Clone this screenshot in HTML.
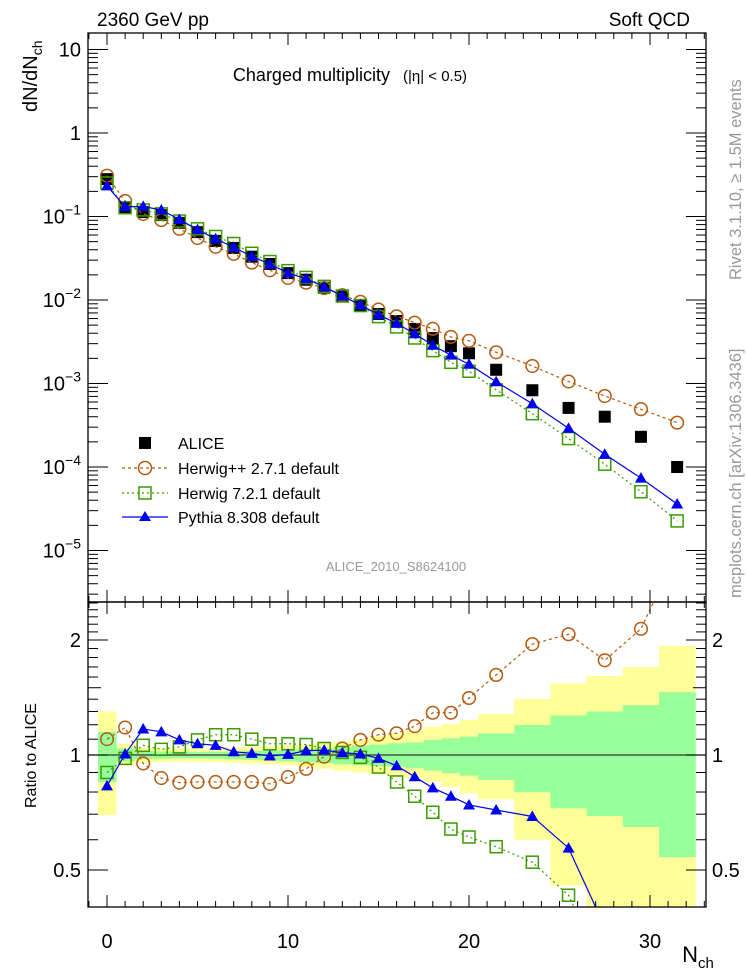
<!DOCTYPE html>
<html><head><meta charset="utf-8"><style>
html,body{margin:0;padding:0;background:#fff}
svg{display:block;font-family:"Liberation Sans",Arial,sans-serif}
</style></head><body>
<svg id="chart" width="746" height="972" viewBox="0 0 746 972" xmlns="http://www.w3.org/2000/svg">
<defs>
<clipPath id="clipMain"><rect x="88" y="33" width="618" height="569"/></clipPath>
<clipPath id="clipRatio"><rect x="88" y="602" width="618" height="305"/></clipPath>
</defs>
<g id="bands" clip-path="url(#clipRatio)"></g>
<g id="marks"></g>
<g id="axes"></g>
<text x="97" y="26" font-size="19">2360 GeV pp</text>
<text x="690" y="26" font-size="19" text-anchor="end">Soft QCD</text>
<text x="350" y="81" font-size="18" text-anchor="middle">Charged multiplicity <tspan font-size="15" dx="8">(|η| &lt; 0.5)</tspan></text>
<text transform="translate(37,112) rotate(-90)" font-size="20">dN/dN<tspan font-size="14" dy="5">ch</tspan></text>
<text transform="translate(36,808) rotate(-90)" font-size="16">Ratio to ALICE</text>
<text x="698" y="962" font-size="22" text-anchor="middle">N<tspan font-size="15" dy="6">ch</tspan></text>
<text transform="translate(741,280) rotate(-90)" font-size="16.5" fill="#999">Rivet 3.1.10, ≥ 1.5M events</text>
<text transform="translate(741,598) rotate(-90)" font-size="16.5" fill="#999">mcplots.cern.ch [arXiv:1306.3436]</text>
<text x="396" y="571" font-size="13" fill="#999" text-anchor="middle">ALICE_2010_S8624100</text>
<g id="legend">
<rect x="139" y="437" width="12" height="12" fill="#000"/>
<text x="178" y="449" font-size="16">ALICE</text>
<line x1="122" y1="468" x2="168" y2="468" stroke="#b35a10" stroke-dasharray="3,3" stroke-width="1.2"/>
<circle cx="145" cy="468" r="6.5" fill="none" stroke="#b35a10" stroke-width="1.5"/>
<text x="178" y="474" font-size="16">Herwig++ 2.7.1 default</text>
<line x1="122" y1="493" x2="168" y2="493" stroke="#3a9a00" stroke-dasharray="2,3" stroke-width="1.2"/>
<rect x="139" y="487" width="12" height="12" fill="none" stroke="#3a9a00" stroke-width="1.5"/>
<text x="178" y="499" font-size="16">Herwig 7.2.1 default</text>
<line x1="122" y1="517" x2="168" y2="517" stroke="#0000ee" stroke-width="1.3"/>
<polygon points="145,511 151,521 139,521" fill="#0000ee"/>
<text x="178" y="523" font-size="16">Pythia 8.308 default</text>
</g>
</svg>
<script>
// ---- data ----
const binCenters=[0,1,2,3,4,5,6,7,8,9,10,11,12,13,14,15,16,17,18,19,20,21.5,23.5,25.5,27.5,29.5,31.5];
const binEdges=[-0.5,0.5,1.5,2.5,3.5,4.5,5.5,6.5,7.5,8.5,9.5,10.5,11.5,12.5,13.5,14.5,15.5,16.5,17.5,18.5,19.5,20.5,22.5,24.5,26.5,28.5,30.5,32.5];
const aliceValues=[0.28,0.13,0.113,0.104,0.084,0.065,0.051,0.042,0.033,0.027,0.021,0.0175,0.014,0.011,0.0087,0.0068,0.0056,0.0045,0.0035,0.0028,0.0023,0.00146,0.00083,0.00051,0.00040,0.00023,0.0001];
const herwigppValues=[0.308,0.1534,0.1074,0.0905,0.0711,0.05525,0.04335,0.0357,0.02805,0.02268,0.01838,0.0161,0.01386,0.01144,0.009527,0.007684,0.006384,0.005355,0.004515,0.003612,0.003243,0.002365,0.001619,0.001056,0.000708,0.000492,0.00034];
const herwig7Values=[0.252,0.1274,0.1198,0.1076,0.0882,0.0712,0.05763,0.04746,0.0363,0.02889,0.02247,0.01864,0.01456,0.01117,0.008578,0.006324,0.00476,0.00351,0.002478,0.001792,0.001403,0.00084,0.000435,0.000219,0.000108,0.0000506,0.0000226];
const pythiaValues=[0.2324,0.1308,0.1322,0.1196,0.092,0.06955,0.05406,0.04284,0.03333,0.02684,0.02108,0.01796,0.01442,0.01115,0.008752,0.006664,0.005247,0.003947,0.00287,0.002184,0.001702,0.001048,0.000573,0.000291,0.000142,0.0000736,0.000036];
const yellowUp=[1.30,1.068,1.045,1.042,1.04,1.04,1.04,1.045,1.05,1.055,1.06,1.065,1.075,1.085,1.10,1.12,1.14,1.156,1.184,1.205,1.235,1.28,1.40,1.54,1.61,1.70,1.93];
const yellowLo=[0.696,0.937,0.955,0.958,0.96,0.96,0.958,0.955,0.95,0.945,0.94,0.93,0.92,0.91,0.90,0.89,0.877,0.869,0.851,0.826,0.794,0.765,0.60,0.455,0.3,0.3,0.3];
const greenUp=[1.15,1.04,1.025,1.022,1.02,1.02,1.02,1.022,1.025,1.028,1.032,1.036,1.042,1.05,1.058,1.065,1.073,1.079,1.095,1.106,1.117,1.14,1.198,1.27,1.30,1.35,1.46];
const greenLo=[0.85,0.963,0.975,0.978,0.98,0.98,0.978,0.975,0.972,0.968,0.963,0.958,0.952,0.945,0.94,0.935,0.932,0.923,0.910,0.896,0.883,0.86,0.799,0.725,0.692,0.648,0.54];
const xTickLabels=["0","10","20","30"];
const yTickLabels=["10","1","10^-1","10^-2","10^-3","10^-4","10^-5"];
const ratioTickLabels=["0.5","1","2"];

// ---- axes ----
const L=88,R=706,MT=33,MB=602,RT=602,RB=907;
const X=v=>107+18.1*v;
const Y=v=>133-83.5*Math.log10(v);
const YR=v=>755-382*Math.log10(v);
const NS="http://www.w3.org/2000/svg";
function mk(tag,attrs,parent){const e=document.createElementNS(NS,tag);for(const k in attrs)e.setAttribute(k,attrs[k]);parent.appendChild(e);return e;}
const svg=document.getElementById('chart');
const bands=document.getElementById('bands');
const marks=document.getElementById('marks');
const axes=document.getElementById('axes');

binCenters.forEach((c,i)=>{
  const x0=X(binEdges[i]),x1=X(binEdges[i+1]);
  const y=mk('rect',{x:x0,y:YR(yellowUp[i]),width:x1-x0+0.5,height:YR(yellowLo[i])-YR(yellowUp[i]),fill:'#ffff99'},bands);
  
  
});
binCenters.forEach((c,i)=>{
  const x0=X(binEdges[i]),x1=X(binEdges[i+1]);
  const g=mk('rect',{x:x0,y:YR(greenUp[i]),width:x1-x0+0.5,height:YR(greenLo[i])-YR(greenUp[i]),fill:'#99ff99'},bands);
  
  
});
const unity=mk('line',{x1:L,x2:R,y1:YR(1),y2:YR(1),stroke:'#333','stroke-width':1.2},bands);



function marker(type,cx,cy,color,parent){
  let e;
  if(type==='circle') e=mk('circle',{cx,cy,r:6.3,fill:'none',stroke:color,'stroke-width':1.5},parent);
  else if(type==='square') e=mk('rect',{x:cx-6,y:cy-6,width:12,height:12,fill:'none',stroke:color,'stroke-width':1.5},parent);
  else if(type==='tri') e=mk('polygon',{points:`${cx},${cy-6} ${cx+6},${cy+4.5} ${cx-6},${cy+4.5}`,fill:color},parent);
  else e=mk('rect',{x:cx-6,y:cy-6,width:12,height:12,fill:color},parent);
  return e;
}
const series=[
 {name:'herwigpp',vals:herwigppValues,color:'#b35a10',type:'circle',dash:'3,3'},
 {name:'herwig7',vals:herwig7Values,color:'#3a9a00',type:'square',dash:'2,3'},
 {name:'pythia',vals:pythiaValues,color:'#0000ee',type:'tri',dash:null}
];
const gMain=mk('g',{'clip-path':'url(#clipMain)'},marks);


const gRatio=mk('g',{'clip-path':'url(#clipRatio)'},marks);


aliceValues.forEach((v,i)=>{
  const m=marker('data',X(binCenters[i]),Y(v),'#000',gMain);
  
  
});
series.forEach(s=>{
  const pts=s.vals.map((v,i)=>X(binCenters[i])+','+Y(v)).join(' ');
  const l=mk('polyline',{points:pts,fill:'none',stroke:s.color,'stroke-width':1.2},gMain);
  if(s.dash) l.setAttribute('stroke-dasharray',s.dash);
  
  
  const rp=s.vals.map((v,i)=>X(binCenters[i])+','+YR(v/aliceValues[i])).join(' ');
  const rl=mk('polyline',{points:rp,fill:'none',stroke:s.color,'stroke-width':1.2},gRatio);
  if(s.dash) rl.setAttribute('stroke-dasharray',s.dash);
  
  
  s.vals.forEach((v,i)=>{
    const m=marker(s.type,X(binCenters[i]),Y(v),s.color,gMain);
    
    
    const r=marker(s.type,X(binCenters[i]),YR(v/aliceValues[i]),s.color,gRatio);
    
    
  });
});

[[MT,MB],[RT,RB]].forEach(([t,b],k)=>{
  const f=mk('rect',{x:L,y:t,width:R-L,height:b-t,fill:'none',stroke:'#000','stroke-width':1.3},axes);
  
  
  for(let n=-1;n<=33;n++){
    const len=(n%10===0)?12:6;
    mk('line',{x1:X(n),x2:X(n),y1:b,y2:b-len,stroke:'#000','stroke-width':1},axes);
    mk('line',{x1:X(n),x2:X(n),y1:t,y2:t+len,stroke:'#000','stroke-width':1},axes);
  }
});
xTickLabels.forEach(s=>{
  const t=mk('text',{x:X(+s),y:948,'font-size':20,'text-anchor':'middle'},axes);
  t.textContent=s;
  
  
});
for(let e=-6;e<=1;e++){
  for(let m=1;m<10;m++){
    const v=m*Math.pow(10,e);const y=Y(v);
    if(y<MT||y>MB) continue;
    const len=m===1?20:10;
    mk('line',{x1:L,x2:L+len,y1:y,y2:y,stroke:'#000','stroke-width':1},axes);
    mk('line',{x1:R,x2:R-len,y1:y,y2:y,stroke:'#000','stroke-width':1},axes);
  }
}
yTickLabels.forEach(s=>{
  const parts=s.split('^');
  const v=parts.length>1?Math.pow(10,+parts[1]):+parts[0];
  const t=mk('text',{x:81,y:Y(v)+7,'font-size':20,'text-anchor':'end'},axes);
  if(parts.length>1){
    t.textContent='10';
    const sp=mk('tspan',{'font-size':14,dy:-9},t);
    sp.textContent=parts[1].replace('-','−');
  } else t.textContent=s;
  
  
});
for(let k=4;k<=25;k++){
  const v=k/10;const y=YR(v);
  if(y<RT||y>RB) continue;
  const major=(k===5||k===10||k===20);
  const len=major?20:(k===15?13:10);
  mk('line',{x1:L,x2:L+len,y1:y,y2:y,stroke:'#000','stroke-width':1},axes);
  mk('line',{x1:R,x2:R-len,y1:y,y2:y,stroke:'#000','stroke-width':1},axes);
}
ratioTickLabels.forEach(s=>{
  const t=mk('text',{x:81,y:YR(+s)+7,'font-size':20,'text-anchor':'end'},axes);
  t.textContent=s;
  
  
  const t2=mk('text',{x:712,y:YR(+s)+7,'font-size':20},axes);
  t2.textContent=s;
  
  
});
</script>
</body></html>
